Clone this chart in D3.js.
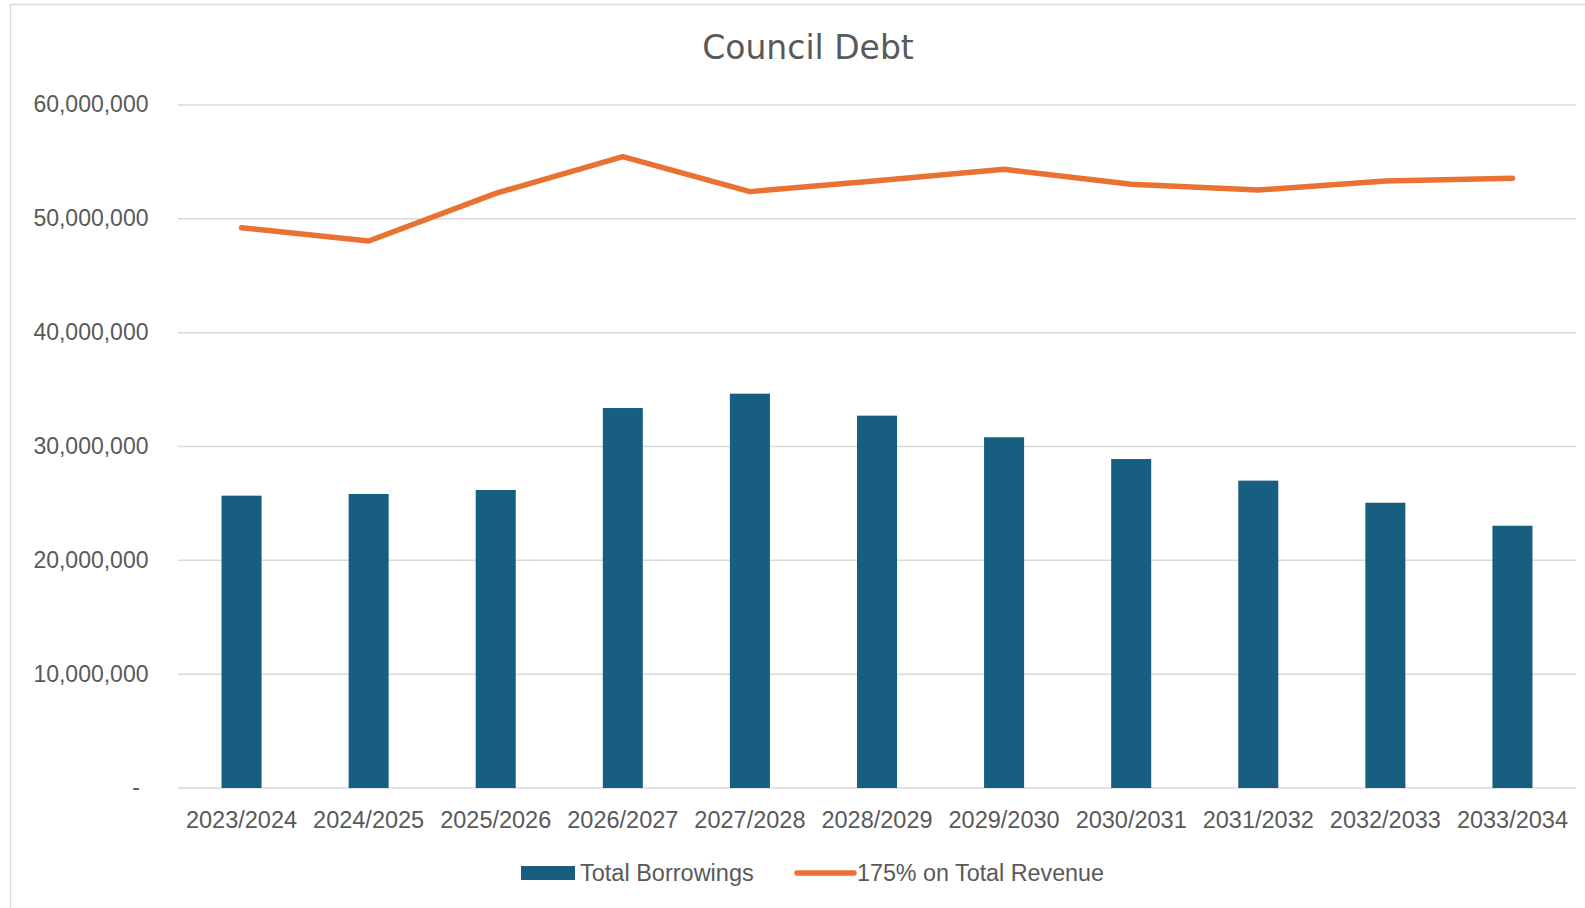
<!DOCTYPE html>
<html>
<head>
<meta charset="utf-8">
<script src="https://cdn.jsdelivr.net/npm/d3@7"></script>
<style>
  html, body { margin: 0; padding: 0; background: #ffffff; }
  svg { display: block; }
</style>
</head>
<body>
<script>
const categories = ["2023/2024","2024/2025","2025/2026","2026/2027","2027/2028","2028/2029","2029/2030","2030/2031","2031/2032","2032/2033","2033/2034"];
const totalBorrowings = [25680000, 25830000, 26180000, 33380000, 34640000, 32710000, 30810000, 28900000, 27000000, 25060000, 23040000];
const revenue175 = [49220000, 48050000, 52240000, 55460000, 52390000, 53350000, 54350000, 53030000, 52530000, 53330000, 53560000];
const yTicks = [0, 10000000, 20000000, 30000000, 40000000, 50000000, 60000000];
const seriesNames = ["Total Borrowings", "175% on Total Revenue"];
const title = "Council Debt";

const W = 1585, H = 908;
const svg = d3.select("body").append("svg").attr("width", W).attr("height", H);

// chart frame
svg.append("rect").attr("x", 10.5).attr("y", 4.5).attr("width", 1600).attr("height", 920)
  .attr("fill", "#fff").attr("stroke", "#d9d9d9").attr("stroke-width", 1.5);

const x = d3.scaleBand().domain(categories).range([178, 1576]).padding(0);
const y = d3.scaleLinear().domain([0, 60000000]).range([788, 105]);

// gridlines
svg.append("g").selectAll("line").data(yTicks).join("line")
  .attr("x1", 178).attr("x2", 1576)
  .attr("y1", d => y(d)).attr("y2", d => y(d))
  .attr("stroke", "#d9d9d9").attr("stroke-width", 1.5);

// y labels
const fmt = d => d === 0 ? "-" : d3.format(",")(d);
svg.append("g").selectAll("text").data(yTicks).join("text")
  .attr("x", d => d === 0 ? 140 : 148.5)
  .attr("y", d => y(d))
  .attr("dy", "0.32em")
  .attr("text-anchor", "end")
  .attr("font-family", "Liberation Sans, Arial, sans-serif")
  .attr("font-size", 23)
  .attr("fill", "#595959")
  .text(fmt);

// bars
const barW = x.bandwidth() * 0.315;
svg.append("g").selectAll("rect").data(categories).join("rect")
  .attr("x", (d) => x(d) + x.bandwidth() / 2 - barW / 2)
  .attr("width", barW)
  .attr("y", (d, i) => y(totalBorrowings[i]))
  .attr("height", (d, i) => y(0) - y(totalBorrowings[i]))
  .attr("fill", "#175E80");

// line
const line = d3.line()
  .x((d, i) => x(categories[i]) + x.bandwidth() / 2)
  .y(d => y(d));
svg.append("path").datum(revenue175)
  .attr("d", line)
  .attr("fill", "none")
  .attr("stroke", "#E97132")
  .attr("stroke-width", 5.5)
  .attr("stroke-linejoin", "round")
  .attr("stroke-linecap", "round");

// x labels
svg.append("g").selectAll("text").data(categories).join("text")
  .attr("x", d => x(d) + x.bandwidth() / 2)
  .attr("y", 828)
  .attr("text-anchor", "middle")
  .attr("font-family", "Liberation Sans, Arial, sans-serif")
  .attr("font-size", 23.5)
  .attr("fill", "#595959")
  .text(d => d);

// title
svg.append("text")
  .attr("x", 808).attr("y", 59)
  .attr("text-anchor", "middle")
  .attr("font-family", "DejaVu Sans, sans-serif")
  .attr("font-size", 33)
  .attr("fill", "#595959")
  .text(title);

// legend
const lg = svg.append("g");
lg.append("rect").attr("x", 521).attr("y", 866).attr("width", 54).attr("height", 14).attr("fill", "#175E80");
lg.append("text").attr("x", 580).attr("y", 881)
  .attr("font-family", "Liberation Sans, Arial, sans-serif").attr("font-size", 23.5).attr("fill", "#595959")
  .text(seriesNames[0]);
lg.append("line").attr("x1", 797).attr("x2", 854).attr("y1", 873).attr("y2", 873)
  .attr("stroke", "#E97132").attr("stroke-width", 5.5).attr("stroke-linecap", "round");
lg.append("text").attr("x", 857).attr("y", 881)
  .attr("font-family", "Liberation Sans, Arial, sans-serif").attr("font-size", 23.3).attr("fill", "#595959")
  .text(seriesNames[1]);
</script>
</body>
</html>
